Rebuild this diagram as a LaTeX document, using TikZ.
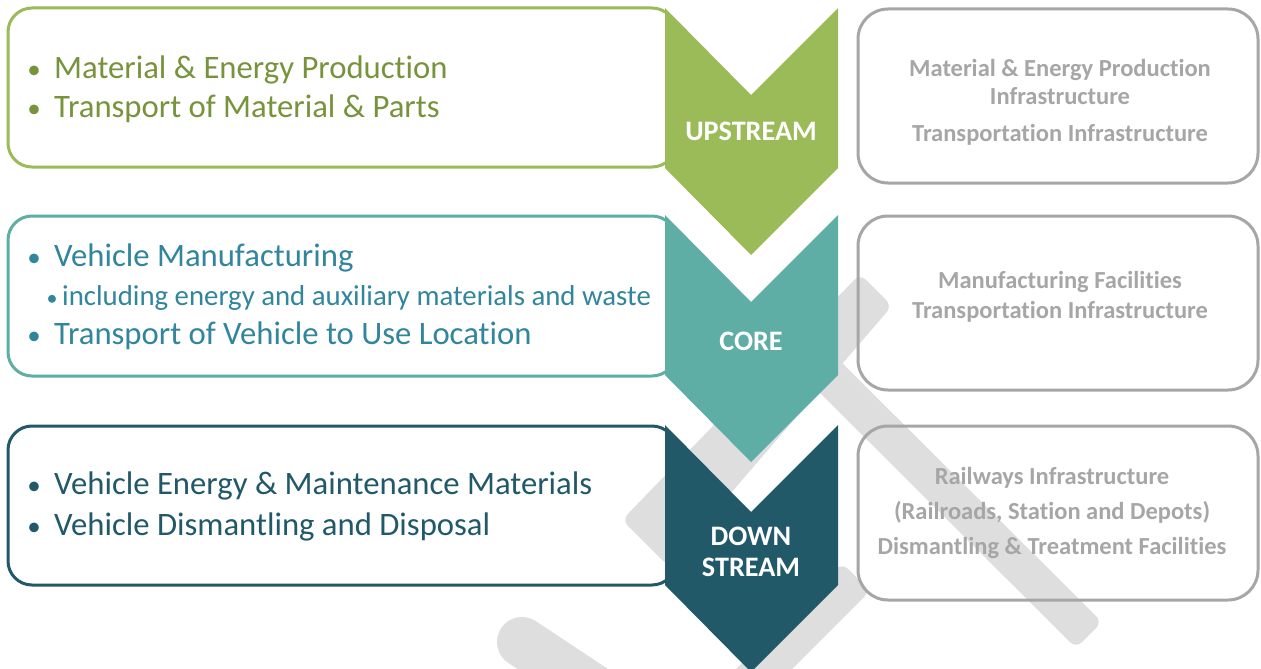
\documentclass[tikz,border=0pt]{standalone}
\usepackage{fontspec}
\setmainfont{Carlito}[Ligatures=NoCommon, Contextuals=NoAlternate]
\usepackage{xcolor}
\usetikzlibrary{positioning}
\definecolor{upgreen}{HTML}{9BBB59}
\definecolor{uptext}{HTML}{77933C}
\definecolor{coreteal}{HTML}{5EAEA6}
\definecolor{coretext}{HTML}{31859C}
\definecolor{downblue}{HTML}{215968}
\definecolor{infogray}{HTML}{A6A6A6}
\definecolor{markgray}{HTML}{DEDEDE}
\tikzset{
  lbox/.style={line width=3pt, rounded corners=24pt},
  rbox/.style={draw=infogray, line width=3pt, rounded corners=30pt},
  wmark/.style={fill=markgray, rounded corners=8pt},
  item/.style={anchor=base west, inner sep=0pt, font=\fontsize{32.7}{38}\selectfont},
  bul/.style={anchor=base, inner sep=0pt, font=\fontsize{27}{32}\selectfont},
  subitem/.style={anchor=base west, inner sep=0pt, font=\fontsize{28.8}{34}\selectfont},
  infotxt/.style={anchor=base, inner sep=0pt, text=infogray, font=\fontsize{24.5}{29}\selectfont\bfseries},
  chevtxt/.style={anchor=base, inner sep=0pt, text=white, font=\fontsize{28.2}{32}\selectfont\bfseries}
}
\begin{document}
\begin{tikzpicture}[x=1pt,y=-1pt]
    \useasboundingbox (0,0) rectangle (1261,669);
    \fill[white] (0,0) rectangle (1261,669);
    % watermark
    \path[wmark] (860,274) -- (892,306) -- (668,566) -- (622,520) -- cycle;
    \path[wmark] (828,349) -- (1102,622) -- (1076,648) -- (802,375) -- cycle;
    \path[wmark] (842,563) -- (870,591) -- (720,741) -- (692,713) -- cycle;
    \draw[markgray, line width=50pt, line cap=round] (522,642) -- (700,760);
    % left boxes
    \draw[lbox, draw=upgreen] (8,8) rectangle (676,167);
    \draw[lbox, draw=coreteal] (8,216) rectangle (676,376);
    \draw[lbox, draw=downblue] (8,426) rectangle (676,585);
    % right boxes
    \draw[rbox] (858,9) rectangle (1258,183);
    \draw[rbox] (858,216) rectangle (1258,390);
    \draw[rbox] (858,426) rectangle (1258,600);
    % chevrons
    \fill[upgreen] (665,8) -- (751,95) -- (838,8) -- (838,168) -- (751,255) -- (665,168) -- cycle;
    \fill[coreteal] (665,215) -- (751,302) -- (838,215) -- (838,375) -- (751,462) -- (665,375) -- cycle;
    \fill[downblue] (665,425) -- (751,512) -- (838,425) -- (838,585) -- (751,672) -- (665,585) -- cycle;
    \node[chevtxt] (up) at (751,140) {UPSTREAM};
    \node[chevtxt] (core) at (751,350) {CORE};
    \node[chevtxt] (down) at (751,545) {DOWN};
    \node[chevtxt] (stream) at (751,576) {STREAM};
    % upstream items
    \node[bul, text=uptext] (ub1) at (34,78) {\textbullet};
    \node[item, text=uptext] (u1) at (54,78) {Material \& Energy Production};
    \node[bul, text=uptext] (ub2) at (34,117) {\textbullet};
    \node[item, text=uptext] (u2) at (54,117) {Transport of Material \& Parts};
    % core items
    \node[bul, text=coretext] (cb1) at (34,266) {\textbullet};
    \node[item, text=coretext] (c1) at (54,266) {Vehicle Manufacturing};
    \node[bul, text=coretext, font=\fontsize{22}{26}\selectfont] (cb2) at (52,305) {\textbullet};
    \node[subitem, text=coretext] (c2) at (62,305) {including energy and auxiliary materials and waste};
    \node[bul, text=coretext] (cb3) at (34,344) {\textbullet};
    \node[item, text=coretext] (c3) at (54,344) {Transport of Vehicle to Use Location};
    % downstream items
    \node[bul, text=downblue] (db1) at (34,494) {\textbullet};
    \node[item, text=downblue] (d1) at (54,494) {Vehicle Energy \& Maintenance Materials};
    \node[bul, text=downblue] (db2) at (34,535) {\textbullet};
    \node[item, text=downblue] (d2) at (54,535) {Vehicle Dismantling and Disposal};
    % infrastructure
    \node[infotxt] (i1) at (1060,77) {Material \& Energy Production};
    \node[infotxt] (i2) at (1060,104) {Infrastructure};
    \node[infotxt] (i3) at (1060,141) {Transportation Infrastructure};
    \node[infotxt] (i4) at (1060,288) {Manufacturing Facilities};
    \node[infotxt] (i5) at (1060,318) {Transportation Infrastructure};
    \node[infotxt] (i6) at (1052,484) {Railways Infrastructure};
    \node[infotxt] (i7) at (1052,519) {(Railroads, Station and Depots)};
    \node[infotxt] (i8) at (1052,554) {Dismantling \& Treatment Facilities};
\end{tikzpicture}
\end{document}
